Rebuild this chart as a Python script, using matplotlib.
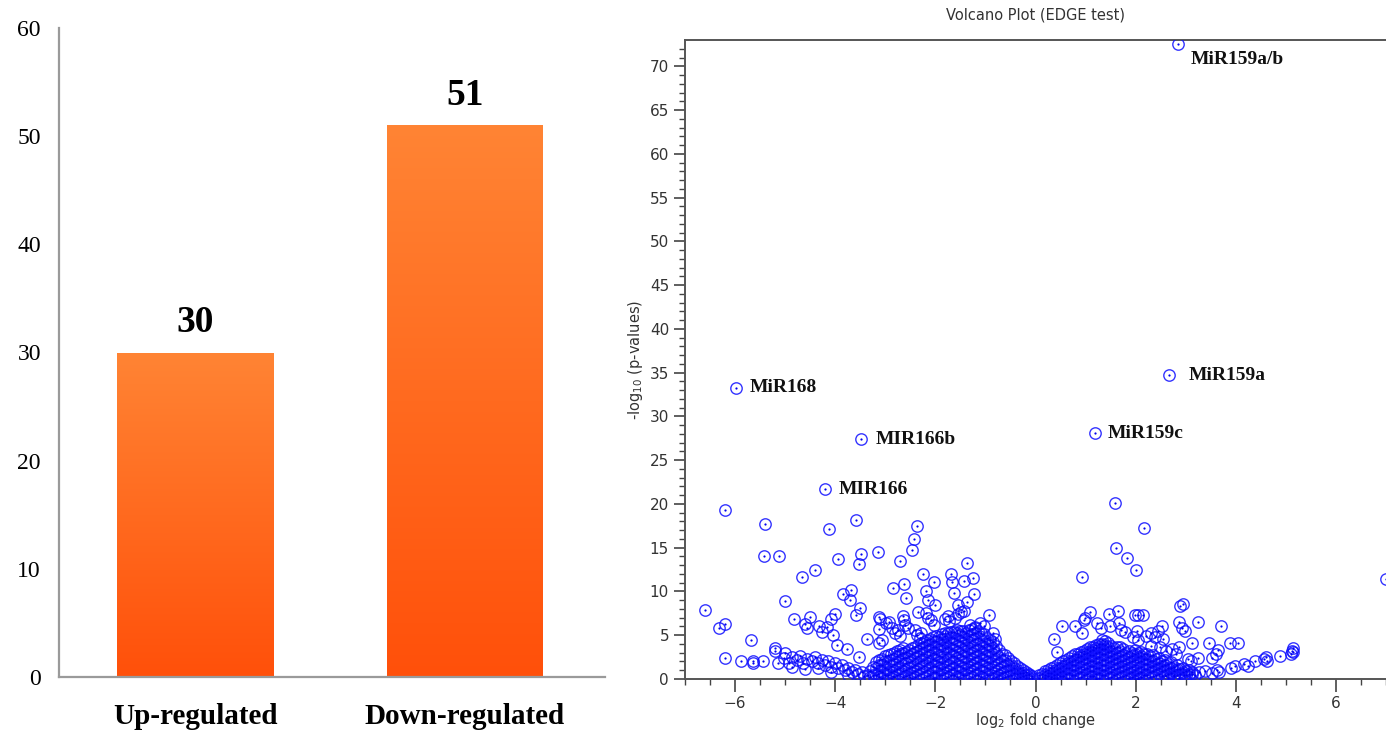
import numpy as np
import matplotlib
matplotlib.use('Agg')
import matplotlib.pyplot as plt
from matplotlib.colors import LinearSegmentedColormap

# ---- left panel: number of DE miRNAs ----
categories = ['Up-regulated', 'Down-regulated']
counts = [30, 51]

# ---- right panel: volcano plot (log2 fold change, -log10 p) ----
# labelled miRNAs
labels = ['MiR159a/b', 'MiR168', 'MIR166b', 'MIR166', 'MiR159a', 'MiR159c']
label_lfc = [2.84, -5.98, -3.49, -4.20, 2.66, 1.18]
label_p = [72.6, 33.3, 27.4, 21.7, 34.7, 28.1]
label_offset = [(9.5, -11.5), (10, 0), (10.5, 0), (10, 0), (14.5, 0), (9.5, 0)]

# scattered points on the down-regulated side
scatter_left = [
    (-6.60, 7.9), (-6.33, 5.8), (-6.20, 6.3), (-6.20, 19.3), (-5.68, 4.5),
    (-6.20, 2.4), (-5.88, 2.1), (-5.64, 2.0), (-5.64, 1.8), (-5.45, 2.0),
    (-5.41, 17.7), (-5.43, 14.0), (-5.13, 14.0), (-5.20, 3.5), (-5.20, 3.2),
    (-5.01, 8.9), (-4.83, 6.9), (-4.67, 11.6), (-4.60, 6.3), (-4.57, 5.8),
    (-4.51, 7.1), (-4.41, 12.5), (-4.33, 6.1), (-4.27, 5.4), (-4.17, 5.9),
    (-4.12, 17.1), (-4.08, 6.9), (-4.01, 7.4), (-4.05, 5.0), (-3.97, 3.9),
    (-3.95, 13.7), (-3.85, 9.7), (-3.77, 3.4), (-3.70, 9.0), (-3.69, 10.2),
    (-3.59, 18.2), (-3.59, 7.3), (-3.53, 13.1), (-3.51, 8.1), (-3.48, 14.3),
    (-3.37, 4.6), (-3.53, 2.5), (-3.15, 14.5), (-3.13, 7.1), (-3.10, 6.8),
    (-2.99, 6.4), (-2.92, 6.5), (-3.13, 5.7), (-3.06, 4.5), (-3.13, 4.1),
    (-2.84, 10.4), (-2.86, 5.8), (-2.80, 5.2), (-2.74, 5.6), (-2.70, 13.5),
    (-2.70, 4.9), (-2.64, 7.2), (-2.62, 10.9), (-2.62, 6.7), (-2.59, 9.3),
    (-2.60, 6.2), (-2.55, 5.8), (-2.47, 14.7), (-2.42, 16.0), (-2.40, 5.6),
    (-2.37, 17.5), (-2.35, 7.7), (-2.36, 5.0), (-2.30, 4.7), (-2.28, 5.3),
    (-2.25, 12.0), (-2.19, 10.0), (-2.18, 7.5), (-2.15, 9.0), (-2.14, 7.0),
    (-2.09, 6.7), (-2.03, 11.1), (-2.02, 6.2), (-2.00, 8.4), (-1.80, 6.9),
    (-1.75, 7.2), (-1.72, 6.6), (-1.68, 12.0), (-1.67, 11.1), (-1.62, 9.8),
    (-1.60, 7.0), (-1.54, 8.4), (-1.55, 7.4), (-1.48, 7.6), (-1.42, 11.2),
    (-1.42, 7.8), (-1.36, 13.2), (-1.36, 8.8), (-1.30, 6.2), (-1.24, 11.5),
    (-1.22, 9.7), (-1.20, 5.9), (-1.10, 6.4), (-1.02, 6.0), (-0.92, 7.3),
    (-0.85, 5.2), (-0.80, 4.6),
]

# the low band running out to large negative fold changes
band_left = [
    (-5.15, 1.8), (-5.03, 2.4), (-5.00, 3.0), (-4.93, 1.8), (-4.87, 2.5),
    (-4.87, 1.4), (-4.77, 2.2), (-4.70, 2.6), (-4.64, 1.8), (-4.60, 1.1),
    (-4.57, 2.3), (-4.47, 2.0), (-4.41, 2.5), (-4.34, 1.8), (-4.34, 1.2),
    (-4.27, 2.2), (-4.21, 1.6), (-4.14, 2.0), (-4.08, 1.4), (-4.08, 0.8),
    (-4.00, 1.8), (-3.94, 1.2), (-3.87, 1.6), (-3.80, 1.0), (-3.74, 1.3),
    (-3.74, 0.4), (-3.67, 0.8), (-3.60, 1.0), (-3.54, 0.6), (-3.47, 0.8),
    (-3.42, 0.3), (-3.35, 0.5),
]

# dense core, one column per fold change: (lfc, p1, p2, ...)
core_left = [
    (-3.30, 0.2, 0.9),
    (-3.18, 0.4, 1.2, 1.9),
    (-3.06, 0.1, 0.8, 1.6, 2.3),
    (-2.94, 0.5, 1.1, 1.9, 2.7),
    (-2.82, 0.2, 0.9, 1.7, 2.3, 3.0),
    (-2.70, 0.6, 1.3, 2.0, 2.8, 3.3),
    (-2.58, 0.3, 1.0, 1.8, 2.4, 3.1),
    (-2.46, 0.1, 0.7, 1.4, 2.1, 2.9, 3.5),
    (-2.34, 0.4, 1.1, 1.8, 2.6, 3.2, 3.9),
    (-2.22, 0.2, 0.8, 1.5, 2.2, 2.9, 3.6, 4.2),
    (-2.10, 0.5, 1.2, 1.9, 2.7, 3.3, 4.0, 4.6),
    (-1.98, 0.1, 0.8, 1.5, 2.2, 2.9, 3.7, 4.3, 4.9),
    (-1.86, 0.4, 1.1, 1.8, 2.5, 3.2, 3.9, 4.6, 5.1),
    (-1.74, 0.2, 0.9, 1.6, 2.3, 3.1, 3.7, 4.4, 5.2),
    (-1.62, 0.5, 1.2, 1.9, 2.6, 3.3, 4.0, 4.7, 5.4),
    (-1.50, 0.1, 0.8, 1.5, 2.2, 2.9, 3.6, 4.3, 5.0, 5.5),
    (-1.38, 0.4, 1.1, 1.8, 2.5, 3.2, 3.9, 4.6, 5.3),
    (-1.26, 0.2, 0.9, 1.6, 2.3, 3.0, 3.7, 4.4, 5.1, 5.7),
    (-1.14, 0.5, 1.2, 1.9, 2.6, 3.3, 4.0, 4.7, 5.5),
    (-1.02, 0.1, 0.8, 1.5, 2.2, 2.9, 3.6, 4.3, 5.1),
    (-0.90, 0.4, 1.1, 1.8, 2.5, 3.2, 3.9, 4.5),
    (-0.78, 0.2, 0.9, 1.6, 2.3, 3.0, 3.8),
    (-0.66, 0.1, 0.7, 1.4, 2.1, 2.9),
    (-0.54, 0.3, 0.9, 1.6, 2.4),
    (-0.42, 0.1, 0.7, 1.3, 1.8),
    (-0.30, 0.2, 0.7, 1.2),
    (-0.18, 0.1, 0.5, 0.8),
    (-0.06, 0.1, 0.3),
]

core_left_b = [
    (-3.24, 0.5, 1.4),
    (-3.12, 0.2, 0.9, 1.6, 2.2),
    (-3.00, 0.4, 1.2, 2.0, 2.6),
    (-2.88, 0.1, 0.8, 1.5, 2.2, 2.9),
    (-2.76, 0.4, 1.1, 1.9, 2.6, 3.2),
    (-2.64, 0.2, 0.9, 1.6, 2.4, 3.0, 3.5),
    (-2.52, 0.5, 1.2, 1.9, 2.6, 3.3),
    (-2.40, 0.2, 0.9, 1.6, 2.4, 3.1, 3.7),
    (-2.28, 0.6, 1.3, 2.0, 2.8, 3.5, 4.1),
    (-2.16, 0.3, 1.0, 1.8, 2.5, 3.2, 3.9, 4.5),
    (-2.04, 0.1, 0.8, 1.5, 2.3, 3.0, 3.6, 4.3, 4.8),
    (-1.92, 0.5, 1.2, 1.9, 2.6, 3.4, 4.0, 4.8),
    (-1.80, 0.1, 0.7, 1.4, 2.1, 2.8, 3.5, 4.2, 4.9, 5.3),
    (-1.68, 0.4, 1.1, 1.8, 2.6, 3.4, 4.1, 4.8, 5.4),
    (-1.56, 0.2, 0.9, 1.6, 2.4, 3.1, 3.8, 4.5, 5.2, 5.6),
    (-1.44, 0.5, 1.2, 1.9, 2.6, 3.3, 4.1, 4.8, 5.5),
    (-1.32, 0.1, 0.7, 1.4, 2.1, 2.8, 3.5, 4.2, 4.9, 5.6),
    (-1.20, 0.4, 1.1, 1.8, 2.5, 3.2, 3.9, 4.6, 5.3, 5.8),
    (-1.08, 0.2, 0.9, 1.6, 2.3, 3.0, 3.8, 4.5, 5.2),
    (-0.96, 0.5, 1.2, 1.9, 2.6, 3.3, 4.0, 4.7),
    (-0.84, 0.1, 0.7, 1.4, 2.1, 2.8, 3.5, 4.2),
    (-0.72, 0.4, 1.1, 1.8, 2.5, 3.3),
    (-0.60, 0.2, 0.8, 1.5, 2.2, 2.7),
    (-0.48, 0.4, 1.0, 1.6, 2.1),
    (-0.36, 0.1, 0.6, 1.0, 1.5),
    (-0.24, 0.3, 0.7, 1.0),
    (-0.12, 0.1, 0.4, 0.6),
]

core_right = [
    (0.06, 0.1, 0.4),
    (0.18, 0.1, 0.5, 0.9),
    (0.30, 0.2, 0.7, 1.2),
    (0.42, 0.1, 0.6, 1.1, 1.6),
    (0.54, 0.3, 0.9, 1.5, 2.0),
    (0.66, 0.1, 0.7, 1.3, 1.9, 2.4),
    (0.78, 0.4, 1.0, 1.6, 2.2, 2.8),
    (0.90, 0.2, 0.8, 1.4, 2.0, 2.6, 3.1),
    (1.02, 0.1, 0.6, 1.2, 1.8, 2.4, 3.0, 3.4),
    (1.14, 0.3, 0.9, 1.5, 2.1, 2.7, 3.3, 3.7),
    (1.26, 0.1, 0.7, 1.3, 1.9, 2.5, 3.1, 3.6, 4.0),
    (1.38, 0.4, 1.0, 1.6, 2.2, 2.8, 3.4, 3.9, 4.3),
    (1.50, 0.2, 0.8, 1.4, 2.0, 2.6, 3.2, 3.8),
    (1.62, 0.1, 0.6, 1.2, 1.8, 2.4, 3.0, 3.6),
    (1.74, 0.3, 0.9, 1.5, 2.1, 2.7, 3.4),
    (1.86, 0.1, 0.7, 1.3, 1.9, 2.5, 3.2),
    (1.98, 0.4, 1.0, 1.6, 2.2, 2.8, 3.3),
    (2.10, 0.2, 0.8, 1.4, 2.0, 2.6, 3.1),
    (2.22, 0.5, 1.1, 1.7, 2.3, 2.9),
    (2.34, 0.3, 0.9, 1.5, 2.1, 2.7),
    (2.46, 0.6, 1.2, 1.8, 2.4),
    (2.58, 0.4, 1.0, 1.6, 2.2),
    (2.70, 0.7, 1.3, 1.9),
    (2.82, 0.5, 1.1, 1.6),
    (2.94, 0.8, 1.3),
    (3.06, 0.6, 1.0),
    (3.18, 0.5),
]

core_right_b = [
    (0.12, 0.2, 0.6),
    (0.24, 0.3, 0.7, 1.0),
    (0.36, 0.1, 0.5, 0.9, 1.4),
    (0.48, 0.3, 0.8, 1.3, 1.8),
    (0.60, 0.1, 0.6, 1.2, 1.7, 2.2),
    (0.72, 0.4, 1.0, 1.6, 2.1, 2.6),
    (0.84, 0.1, 0.7, 1.3, 1.9, 2.5, 2.9),
    (0.96, 0.5, 1.1, 1.7, 2.3, 2.8, 3.2),
    (1.08, 0.3, 0.9, 1.5, 2.1, 2.7, 3.2, 3.6),
    (1.20, 0.1, 0.6, 1.2, 1.8, 2.4, 3.0, 3.5, 3.9),
    (1.32, 0.4, 1.0, 1.6, 2.2, 2.8, 3.4, 4.0, 4.4),
    (1.44, 0.1, 0.7, 1.3, 1.9, 2.5, 3.1, 3.7, 4.1),
    (1.56, 0.5, 1.1, 1.7, 2.3, 2.9, 3.5),
    (1.68, 0.2, 0.8, 1.4, 2.0, 2.6, 3.2, 3.7),
    (1.80, 0.5, 1.1, 1.7, 2.3, 3.0),
    (1.92, 0.2, 0.8, 1.4, 2.0, 2.6, 3.0),
    (2.04, 0.1, 0.7, 1.3, 1.9, 2.5, 3.0),
    (2.16, 0.5, 1.1, 1.7, 2.3, 2.8),
    (2.28, 0.2, 0.8, 1.4, 2.0, 2.6),
    (2.40, 0.5, 1.1, 1.7, 2.3),
    (2.52, 0.3, 0.9, 1.5, 2.0),
    (2.64, 0.6, 1.2, 1.7),
    (2.76, 0.4, 0.9, 1.4),
    (2.88, 0.6, 1.1),
    (3.00, 0.4, 0.9),
    (3.12, 0.8),
]

scatter_right = [
    (0.36, 4.6), (0.43, 3.1), (0.53, 6.0), (0.79, 6.0), (0.92, 5.2),
    (0.92, 11.7), (0.96, 6.7), (0.99, 7.0), (1.09, 7.7), (1.22, 6.4),
    (1.30, 5.8), (1.46, 7.4), (1.49, 6.0), (1.58, 20.1), (1.60, 15.0),
    (1.64, 7.8), (1.67, 6.4), (1.70, 5.6), (1.79, 5.4), (1.82, 13.8),
    (1.95, 4.8), (1.98, 7.35), (2.00, 12.4), (2.02, 5.5), (2.05, 7.3),
    (2.05, 4.5), (2.15, 7.35), (2.17, 17.2), (2.20, 4.9), (2.30, 5.2),
    (2.38, 4.8), (2.45, 5.5), (2.52, 6.0), (2.55, 4.6), (2.30, 3.8),
    (2.48, 3.7), (2.60, 3.2), (2.72, 3.4), (2.80, 2.8), (2.86, 3.7),
    (2.86, 6.5), (2.89, 8.3), (2.92, 5.8), (2.94, 8.6), (2.99, 5.5),
    (3.05, 2.3), (3.10, 2.0), (3.13, 4.1), (3.24, 6.5), (3.24, 2.4),
    (3.47, 4.1), (3.52, 2.4), (3.61, 2.9), (3.65, 3.3), (3.71, 6.1),
    (3.89, 4.15), (4.04, 4.15), (4.89, 2.6), (5.15, 3.5), (5.15, 3.1),
    (7.00, 11.4),
]

band_right = [
    (2.60, 0.3), (2.77, 0.3), (2.97, 0.5), (3.12, 0.6), (3.27, 0.8),
    (3.39, 0.9), (3.52, 0.7), (3.62, 1.0), (3.67, 0.8), (3.90, 1.2),
    (3.98, 1.5), (4.17, 1.7), (4.24, 1.5), (4.38, 2.0), (4.57, 2.3),
    (4.60, 2.5), (4.63, 2.1), (5.10, 2.9), (5.12, 3.2),
]

baseline_pts = [
    (-3.15, 0.6), (-2.85, 0.3), (-2.50, 0.2), (-2.02, 0.0), (-1.55, 0.05),
    (-1.10, 0.0), (-0.75, 0.0), (0.30, 0.0), (0.62, 0.0), (1.20, 0.0),
    (1.98, 0.05), (2.05, 0.0), (2.64, 0.1), (2.86, 0.1),
]


def flatten_columns(cols):
    xs, ys = [], []
    for col in cols:
        for p in col[1:]:
            xs.append(col[0])
            ys.append(p)
    return xs, ys


W, H = 1386, 730
fig = plt.figure(figsize=(W / 100, H / 100), dpi=100, facecolor='white')
serif = ['Liberation Serif', 'DejaVu Serif']

# =============== bar chart ===============
ax1 = fig.add_axes([59 / W, (H - 677) / H, (605 - 59) / W, (677 - 28) / H])
x = np.arange(len(categories))
bars = ax1.bar(x, counts, width=0.578, color='none', edgecolor='none', zorder=2)

grad_cmap = LinearSegmentedColormap.from_list('org', ['#FF500A', '#FF8434'])
grad = np.linspace(0, 1, 256).reshape(-1, 1)
for bar in bars:
    bx, by = bar.get_x(), bar.get_y()
    bw, bh = bar.get_width(), bar.get_height()
    im = ax1.imshow(grad, cmap=grad_cmap, origin='lower', aspect='auto',
                    extent=[bx, bx + bw, by, by + bh], zorder=2)
    im.set_clip_path(bar)
    ax1.annotate(f'{int(bh)}', (bx + bw / 2, bh), xytext=(0, 9),
                 textcoords='offset points', ha='center', va='bottom',
                 fontsize=27, fontweight='bold', family=serif)
ax1.set_xlim(-0.504, 1.519)
ax1.set_ylim(0, 60)

ax1.set_xticks(x)
ax1.set_xticklabels(categories, fontsize=21, fontweight='bold', family=serif)
ax1.set_yticks(range(0, 61, 10))
ax1.set_yticklabels([str(v) for v in range(0, 61, 10)], fontsize=17, family=serif)
ax1.tick_params(axis='x', length=0, pad=19)
ax1.tick_params(axis='y', length=0, pad=13)
for s in ['top', 'right']:
    ax1.spines[s].set_visible(False)
for s in ['left', 'bottom']:
    ax1.spines[s].set_color('#9a9a9a')
    ax1.spines[s].set_linewidth(1.6)

# =============== volcano plot ===============
ax2 = fig.add_axes([685 / W, (H - 679) / H, (W - 685) / W, (679 - 40) / H])

xs, ys = [], []
for cols in [core_left, core_left_b, core_right, core_right_b]:
    cx, cy = flatten_columns(cols)
    xs += cx
    ys += cy
groups = [scatter_left, band_left, scatter_right, band_right, baseline_pts]
xs += [p[0] for g in groups for p in g] + label_lfc
ys += [p[1] for g in groups for p in g] + label_p
all_x = np.array(xs)
all_y = np.array(ys)

ax2.plot(all_x, all_y, linestyle='none', marker='o', markersize=8.2,
         markerfacecolor='none', markeredgecolor='#1010ff',
         markeredgewidth=1.0, alpha=0.85, zorder=3)
ax2.plot(all_x, all_y, linestyle='none', marker='o', markersize=1.6,
         markerfacecolor='#0000ee', markeredgecolor='none', zorder=4)

for name, lx, ly, off in zip(labels, label_lfc, label_p, label_offset):
    ax2.annotate(name, (lx, ly), xytext=off, textcoords='offset points',
                 ha='left', va='center', fontsize=14, fontweight='bold',
                 family=serif, color='#111111')

ax2.set_xlim(-7, 7)
ax2.set_ylim(0, 73)
ax2.set_xticks(range(-6, 7, 2))
ax2.set_xticks(np.arange(-7, 7.01, 0.5), minor=True)
ax2.set_yticks(range(0, 71, 5))
ax2.set_yticks(range(0, 73), minor=True)
ax2.tick_params(axis='both', which='major', direction='out', length=8,
                width=1.2, color='#444444', labelsize=11, labelcolor='#333333')
ax2.tick_params(axis='both', which='minor', direction='out', length=4.5,
                width=1.0, color='#444444')
ax2.tick_params(axis='x', which='major', length=9)
ax2.spines['right'].set_visible(False)
for s in ['left', 'bottom', 'top']:
    ax2.spines[s].set_color('#555555')
    ax2.spines[s].set_linewidth(1.4)

ax2.set_xlabel(r'log$_2$ fold change', fontsize=10.5, color='#333333', labelpad=0)
ax2.set_ylabel(r'-log$_{10}$ (p-values)', fontsize=10.5, color='#333333', labelpad=3)
ax2.set_title('Volcano Plot (EDGE test)', fontsize=10.5, color='#333333', pad=15)

fig.savefig('out.png', dpi=100, facecolor='white')
